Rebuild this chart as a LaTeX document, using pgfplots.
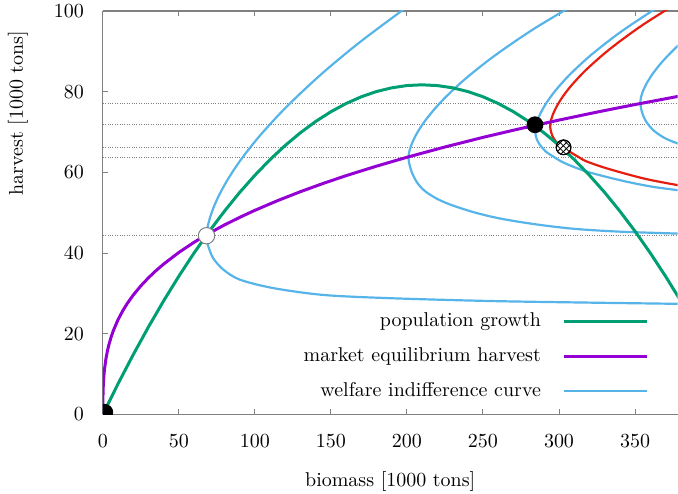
\documentclass[border=0pt]{standalone}
\usepackage{pgfplots}
\pgfplotsset{compat=1.18}
\usetikzlibrary{patterns}
\definecolor{cgreen}{HTML}{009E73}
\definecolor{cpurple}{HTML}{9400D3}
\definecolor{cblue}{HTML}{56B4E9}
\definecolor{cred}{HTML}{E51E10}
\begin{document}
\begin{tikzpicture}
\begin{axis}[name=ax, scale only axis, width=287.8pt, height=202pt,
 xmin=0, xmax=378, ymin=0, ymax=100,
 axis x line=box, axis y line=left,
 axis line style={-, draw=gray, line width=0.6pt},
 tick align=inside, major tick length=2.5pt, tick style={gray, line width=0.5pt},
 xtick={0,50,...,350}, ytick={0,20,...,100},
 xticklabel style={yshift=-6.5pt}, yticklabel style={xshift=-6pt},
 xlabel={biomass [1000 tons]}, ylabel={harvest [1000 tons]},
 every axis x label/.style={at={(axis description cs:0.5,0)}, anchor=center, yshift=-33.5pt},
 every axis y label/.style={at={(axis description cs:0,0.747)}, anchor=center, xshift=-42.5pt, rotate=90},
 clip marker paths=true,
 legend plot pos=right, legend cell align=right,
 legend style={draw=none, fill=none, inner sep=0pt, outer sep=0pt, at={(axis cs:359,14.4)}, anchor=east, row sep=8.5pt, column sep=11pt, nodes={inner sep=0pt, text height=7pt, text depth=2pt}},
 legend image code/.code={\draw[#1] (0pt,0pt) -- (41.5pt,0pt);},
]
% dotted reference lines
\addplot[forget plot, gray, line width=0.45pt, dash pattern=on 0.5pt off 0.7pt] coordinates {(0,77.2) (380,77.2)};
\addplot[forget plot, gray, line width=0.45pt, dash pattern=on 0.5pt off 0.7pt] coordinates {(0,71.8) (380,71.8)};
\addplot[forget plot, gray, line width=0.45pt, dash pattern=on 0.5pt off 0.7pt] coordinates {(0,66.2) (380,66.2)};
\addplot[forget plot, gray, line width=0.45pt, dash pattern=on 0.5pt off 0.7pt] coordinates {(0,63.8) (380,63.8)};
\addplot[forget plot, gray, line width=0.45pt, dash pattern=on 0.5pt off 0.7pt] coordinates {(0,44.3) (380,44.3)};
% welfare indifference curves
\addplot[forget plot, cblue, line width=1.1pt, smooth] coordinates {(201.09,101.3) (169.12,92.3) (143.55,84.3) (120.94,76.3) (103.74,69.3) (91.09,63.3) (82.25,58.3) (76.40,54.3) (72.83,51.3) (70.49,48.8) (69.09,46.8) (68.41,45.3) (68.2,44.3) (68.4,43.3) (69.3,41.7) (72.6,38.7) (79.2,35.9) (90.1,33.4) (112.2,31.3) (145.3,29.6) (189.3,28.8) (255.3,28.1) (321.3,27.7) (380,27.4)};
\addplot[forget plot, cblue, line width=1.1pt, smooth] coordinates {(320.25,103.8) (284.46,95.8) (257.24,88.8) (237.22,82.8) (223.23,77.8) (213.98,73.8) (208.33,70.8) (204.62,68.3) (202.41,66.3) (201.33,64.8) (201,63.8) (201.3,62.6) (202.3,61.0) (203.9,59.4) (207,57.3) (212,55.3) (220,53.4) (230,51.8) (245,50.0) (262,48.5) (285,47.1) (310,46.0) (340,45.3) (380,44.8)};
\addplot[forget plot, cblue, line width=1.1pt, smooth] coordinates {(370.57,102.3) (342.43,95.3) (321.74,89.3) (307.28,84.3) (297.72,80.3) (291.88,77.3) (288.04,74.8) (285.76,72.8) (284.64,71.3) (284.3,70.3) (284.7,69.2) (285.5,68.1) (287.5,66.8) (291.5,65.1) (296.3,63.9) (302,62.6) (310,61.3) (319,60.1) (332,58.8) (345.5,57.6) (362,56.4) (380,55.5)};
\addplot[forget plot, cblue, line width=1.1pt, smooth] coordinates {(394.27,96.5) (378.53,91.5) (368.11,87.5) (361.75,84.5) (357.57,82.0) (355.09,80.0) (353.87,78.5) (353.5,77.5) (353.9,76.0) (355.2,74.2) (357.8,72.3) (362.5,70.3) (370,68.4) (380,66.9) (390,65.7)};
\addplot[forget plot, cred, line width=1.1pt, smooth] coordinates {(384.82,103.6) (355.27,96.6) (333.53,90.6) (318.34,85.6) (308.29,81.6) (302.16,78.6) (298.13,76.1) (295.73,74.1) (294.55,72.6) (294.2,71.6) (294.5,70.5) (295.8,68.9) (298.5,67.4) (303,66.2) (308,64.9) (312.4,63.9) (318.2,62.7) (332.2,60.9) (356.6,58.4) (380,56.7)};
% population growth
\addplot[cgreen, line width=1.5pt] coordinates {(0,0) (10,7.60) (20,14.82) (30,21.68) (40,28.16) (50,34.27) (60,40.02) (70,45.39) (80,50.39) (90,55.03) (100,59.28) (110,63.18) (120,66.69) (130,69.84) (140,72.62) (150,75.03) (160,77.07) (170,78.74) (180,80.04) (190,80.95) (200,81.52) (210,81.70) (220,81.51) (230,80.96) (240,80.03) (250,78.74) (260,77.07) (270,75.04) (280,72.63) (290,69.84) (300,66.70) (310,63.18) (320,59.28) (330,55.03) (340,50.39) (350,45.40) (360,40.02) (370,34.28) (380,28.17)};
\addlegendentry{population growth}
% market equilibrium harvest
\addplot[cpurple, line width=1.5pt] coordinates {(0,0) (0.05,4.01) (0.2,6.38) (0.5,8.65) (1,10.90) (2,13.73) (3,15.72) (4,17.30) (5.5,19.24) (7,20.85) (10,23.48) (13,25.63) (16,27.47) (20,29.59) (25,31.87) (30,33.86) (35,35.65) (40,37.27) (50,40.15) (60,42.67) (70,44.92) (80,46.97) (90,48.84) (100,50.59) (115,53.00) (130,55.22) (145,57.27) (160,59.18) (180,61.54) (200,63.74) (225,66.29) (250,68.67) (275,70.88) (300,72.96) (325,74.94) (350,76.81) (380,78.95)};
\addlegendentry{market equilibrium harvest}
\addlegendimage{cblue, line width=1.1pt}
\addlegendentry{welfare indifference curve}
% points
\addplot[forget plot, only marks, mark=*, mark size=4pt, mark options={draw=black, fill=black}] coordinates {(1.3,0.5) (284.2,71.8)};
\addplot[forget plot, only marks, mark=*, mark size=4.1pt, mark options={draw=gray, fill=white, line width=0.5pt}] coordinates {(68.2,44.3)};
\addplot[forget plot, only marks, mark=*, mark size=3.7pt, mark options={draw=black, fill=white, line width=0.5pt}] coordinates {(303,66.2)};
\addplot[forget plot, only marks, mark=*, mark size=3.7pt, mark options={draw=black, pattern=crosshatch, pattern color=black, line width=0.5pt}] coordinates {(303,66.2)};
\end{axis}
\pgfresetboundingbox
\useasboundingbox ([shift={(-51.5pt,-39.5pt)}]ax.south west) rectangle ([shift={(0.2pt,5.5pt)}]ax.north east);
\end{tikzpicture}
\end{document}
